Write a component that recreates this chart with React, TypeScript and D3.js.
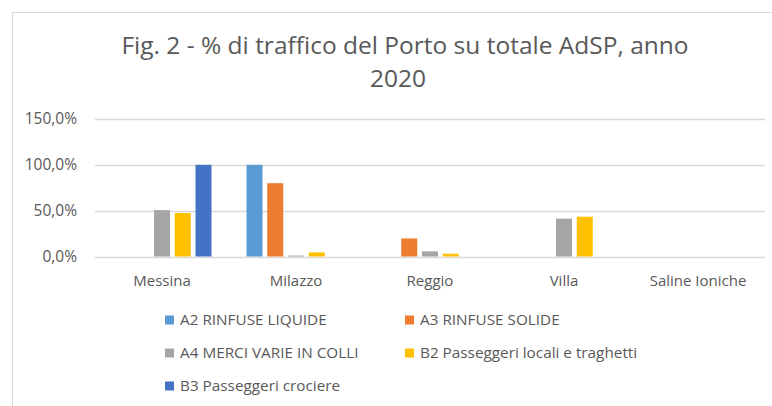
import React from 'react'
import * as d3 from 'd3'

const width = 772
const height = 406

const ports = ['Messina', 'Milazzo', 'Reggio', 'Villa', 'Saline Ioniche']
const seriesNames = [
  'A2 RINFUSE LIQUIDE',
  'A3 RINFUSE SOLIDE',
  'A4 MERCI VARIE IN COLLI',
  'B2 Passeggeri locali e traghetti',
  'B3 Passeggeri crociere',
]
// % share per port, one array per series (same order as ports)
const a2 = [0, 100, 0, 0, 0]
const a3 = [0, 80, 19.7, 0, 0]
const a4 = [50.6, 1, 5.6, 41.3, 0]
const b2 = [47.4, 4.4, 3, 43.4, 0]
const b3 = [100, 0, 0, 0, 0]
const yTicks = [0, 50, 100, 150]

const seriesValues = [a2, a3, a4, b2, b3]
const colors = ['#5B9BD5', '#ED7D31', '#A5A5A5', '#FFC000', '#4472C4']

const margin = { top: 119, right: 7, bottom: 149.5, left: 95 }
const textColor = '#595959'
const gridColor = '#D9D9D9'
const font = '"Open Sans", sans-serif'

const fmt = (v: number) => d3.format('.1f')(v).replace('.', ',') + '%'

export default function App() {
  const x0 = d3.scaleBand<string>()
    .domain(ports)
    .range([margin.left, width - margin.right])
    .paddingInner(0.261)
    .paddingOuter(0.1305)
  const x1 = d3.scaleBand<string>()
    .domain(seriesNames)
    .range([0, x0.bandwidth()])
    .paddingInner(0.229)
  const y = d3.scaleLinear().domain([0, 150]).range([height - margin.bottom, margin.top])

  const legendCols = [165, 405]
  const legendRows = [320, 353, 386]

  return (
    <svg width={width} height={height} style={{ position: 'absolute', left: 0, top: 0, background: '#fff' }}>
      <rect x={12.5} y={12.5} width={800} height={450} fill="#fff" stroke={gridColor} />

      <g fill={textColor} fontFamily={font} fontSize={24.5} textAnchor="middle">
        <text x={405} y={54}>Fig. 2 - % di traffico del Porto su totale AdSP, anno</text>
        <text x={398} y={87}>2020</text>
      </g>

      {yTicks.map(t => (
        <g key={t}>
          <line x1={margin.left} x2={width - margin.right} y1={Math.round(y(t)) + 0.5} y2={Math.round(y(t)) + 0.5}
            stroke={gridColor} strokeWidth={1.3} />
          <text x={77} y={y(t)} dy="0.35em" textAnchor="end" fill={textColor}
            fontFamily={font} fontSize={15.5}>{fmt(t)}</text>
        </g>
      ))}

      {ports.map((p, i) => (
        <g key={p}>
          {seriesNames.map((s, j) => {
            const v = seriesValues[j][i]
            if (!v) return null
            return (
              <rect key={s} x={(x0(p) ?? 0) + (x1(s) ?? 0)} y={y(v)} width={x1.bandwidth()}
                height={y(0) - y(v)} fill={colors[j]} />
            )
          })}
          <text x={(x0(p) ?? 0) + x0.bandwidth() / 2} y={286} textAnchor="middle" fill={textColor}
            fontFamily={font} fontSize={15}>{p}</text>
        </g>
      ))}

      {seriesNames.map((s, j) => {
        const lx = legendCols[j % 2]
        const ly = legendRows[Math.floor(j / 2)]
        return (
          <g key={s}>
            <rect x={lx} y={ly - 4.5} width={9} height={9} fill={colors[j]} />
            <text x={lx + 15} y={ly} dy="0.35em" fill={textColor} fontFamily={font} fontSize={15.3}>{s}</text>
          </g>
        )
      })}
    </svg>
  )
}
